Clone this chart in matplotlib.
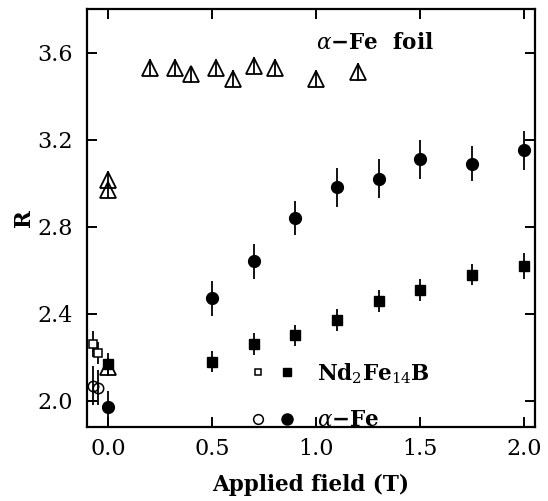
import matplotlib.pyplot as plt
from matplotlib.legend_handler import HandlerTuple
from matplotlib.lines import Line2D

# alpha-Fe foil (open triangles)
foil_x = [0.0, 0.0, 0.0, 0.2, 0.32, 0.4, 0.52, 0.6, 0.7, 0.8, 1.0, 1.2]
foil_r = [3.015, 2.97, 2.155, 3.53, 3.53, 3.50, 3.53, 3.48, 3.54, 3.53, 3.48, 3.51]
foil_err = [0.04] * len(foil_x)

# Nd2Fe14B (filled squares) and zero-field open squares
nd_x = [0.0, 0.5, 0.7, 0.9, 1.1, 1.3, 1.5, 1.75, 2.0]
nd_r = [2.17, 2.18, 2.26, 2.30, 2.37, 2.46, 2.51, 2.58, 2.62]
nd_err = [0.05, 0.05, 0.05, 0.05, 0.05, 0.05, 0.05, 0.05, 0.06]
nd0_x = [-0.07, -0.05]
nd0_r = [2.26, 2.22]
nd0_err = [0.06, 0.05]

# alpha-Fe (filled circles) and zero-field open circles
fe_x = [0.0, 0.5, 0.7, 0.9, 1.1, 1.3, 1.5, 1.75, 2.0]
fe_r = [1.97, 2.47, 2.64, 2.84, 2.98, 3.02, 3.11, 3.09, 3.15]
fe_err = [0.075, 0.08, 0.08, 0.08, 0.09, 0.09, 0.09, 0.08, 0.09]
fe0_x = [-0.072, -0.047]
fe0_r = [2.07, 2.06]
fe0_err = [0.09, 0.08]

xticks = [0.0, 0.5, 1.0, 1.5, 2.0]
yticks = [2.0, 2.4, 2.8, 3.2, 3.6]

plt.rcParams['font.family'] = 'DejaVu Serif'
plt.rcParams['mathtext.fontset'] = 'dejavuserif'

fig = plt.figure(figsize=(5.48, 5.01), dpi=100)
ax = fig.add_axes([0.159, 0.148, 0.817, 0.834])

eb = dict(ls='none', ecolor='black', elinewidth=1.3, capsize=0, color='black')
ax.errorbar(foil_x, foil_r, yerr=foil_err, marker='^', ms=12, mfc='none',
            mec='black', mew=1.3, **eb)
ax.errorbar(nd0_x, nd0_r, yerr=nd0_err, marker='s', ms=5.5, mfc='white',
            mec='black', mew=1.1, **eb)
ax.errorbar(fe0_x, fe0_r, yerr=fe0_err, marker='o', ms=7.5, mfc='none',
            mec='black', mew=1.1, **eb)
ax.errorbar(nd_x, nd_r, yerr=nd_err, marker='s', ms=7, mfc='black',
            mec='black', **eb)
ax.errorbar(fe_x, fe_r, yerr=fe_err, marker='o', ms=8.5, mfc='black',
            mec='black', **eb)

ax.set_xlim(-0.1, 2.05)
ax.set_ylim(1.88, 3.8)
ax.set_xticks(xticks)
ax.set_yticks(yticks)
ax.set_xticklabels([f"{v:.1f}" for v in xticks])
ax.set_yticklabels([f"{v:.1f}" for v in yticks])
ax.tick_params(direction='in', length=7, width=1.4, top=True, right=True,
               labelsize=16)
ax.tick_params(axis='x', pad=8)
ax.tick_params(axis='y', pad=10)
for s in ax.spines.values():
    s.set_linewidth(1.6)

ax.set_xlabel('Applied field (T)', fontsize=15.5, fontweight='bold', labelpad=10)
ax.set_ylabel('R', fontsize=15.5, fontweight='bold', labelpad=2)

ax.text(1.0, 3.646, r'$\alpha$' + '\u2212Fe  foil', fontsize=15.5,
        fontweight='bold', va='center', ha='left')

# legend keys: open + filled marker pairs
h_nd = (Line2D([], [], ls='none', marker='s', ms=5, mfc='white', mec='black', mew=1.1),
        Line2D([], [], ls='none', marker='s', ms=6, mfc='black', mec='black'))
h_fe = (Line2D([], [], ls='none', marker='o', ms=7, mfc='white', mec='black', mew=1.1),
        Line2D([], [], ls='none', marker='o', ms=8, mfc='black', mec='black'))
leg = ax.legend([h_nd, h_fe],
                [r'Nd$_2$Fe$_{14}$B', r'$\alpha$' + '\u2212Fe'],
                handler_map={tuple: HandlerTuple(ndivide=None, pad=0.7)},
                frameon=False, fontsize=15.5, handlelength=2.0, handletextpad=1.1,
                labelspacing=1.1, loc='lower left',
                bbox_to_anchor=(0.322, -0.057))
for t in leg.get_texts():
    t.set_fontweight('bold')

fig.savefig('out.png', dpi=100)
